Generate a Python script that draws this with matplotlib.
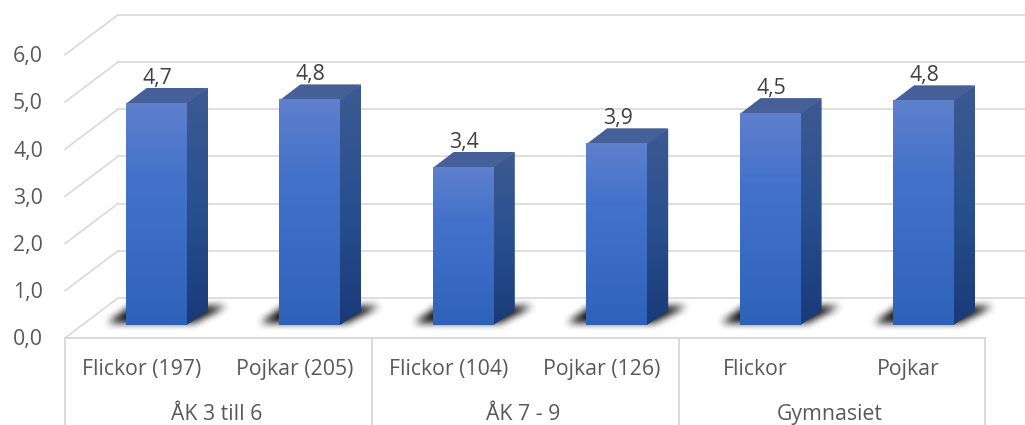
import numpy as np
import matplotlib
matplotlib.use("Agg")
import matplotlib.pyplot as plt
from matplotlib.colors import LinearSegmentedColormap
from matplotlib.patches import Polygon
from matplotlib.path import Path

plt.rcParams["font.family"] = ["Open Sans", "DejaVu Sans"]

# values
categories = ["Flickor (197)", "Pojkar (205)", "Flickor (104)", "Pojkar (126)", "Flickor", "Pojkar"]
groups = ["ÅK 3 till 6", "ÅK 7 - 9", "Gymnasiet"]
values = [4.72, 4.79, 3.36, 3.86, 4.50, 4.77]
y_ticks = [0, 1, 2, 3, 4, 5, 6]

W, H = 1025, 425
PX_X = 153.4   # pixels per category
PX_Y = 47.2    # pixels per y unit
X0, Y0 = 141.7, 338   # first category centre, zero on the front edge

# depth of the box and of the bars, in data units
WALL_DX, WALL_DY = 53 / PX_X, 40 / PX_Y
BAR_X, BAR_Y = 14.8 / PX_X, 12.5 / PX_Y
SIDE_DX, SIDE_DY = 21 / PX_X, 15 / PX_Y
BAR_W = 61 / PX_X

GRID = "#d9d9d9"
TEXT = "#595959"

front_cmap = LinearSegmentedColormap.from_list("front", ["#2e62b8", "#3a6bc4", "#4472ca", "#5f80cd"])
side_cmap = LinearSegmentedColormap.from_list("side", ["#1a3a78", "#28508f", "#3d5a92"])
top_cmap = LinearSegmentedColormap.from_list("top", ["#47619b", "#465f96"])

fig = plt.figure(figsize=(W / 100, H / 100), dpi=100)
ax = fig.add_axes([0, 0, 1, 1])
ax.axis("off")
xlim = (-X0 / PX_X, (W - X0) / PX_X)
ylim = ((Y0 - H) / PX_Y, Y0 / PX_Y)


def gradient(poly, cmap, zorder):
    pts = np.array(poly)
    img = np.linspace(1, 0, 256).reshape(-1, 1)
    im = ax.imshow(img, cmap=cmap, aspect="auto", vmin=0, vmax=1, zorder=zorder,
                   extent=(pts[:, 0].min(), pts[:, 0].max(), pts[:, 1].min(), pts[:, 1].max()))
    patch = Polygon(poly, closed=True, transform=ax.transData, facecolor="none", edgecolor="none")
    ax.add_patch(patch)
    im.set_clip_path(patch)


def blur(a, n):
    k = np.ones(n) / n
    for _ in range(2):
        a = np.apply_along_axis(lambda r: np.convolve(r, k, mode="same"), 0, a)
        a = np.apply_along_axis(lambda r: np.convolve(r, k, mode="same"), 1, a)
    return a


def shadow(left, base):
    # soft shadow on the floor behind the bar
    xs = np.linspace(left - 50 / PX_X, left + 135 / PX_X, 185)
    ys = np.linspace(base - 20 / PX_Y, base + 40 / PX_Y, 60)
    gx, gy = np.meshgrid(xs, ys)
    outline = [(left - 19 / PX_X, base + 2 / PX_Y), (left + 68 / PX_X, base + 2 / PX_Y),
               (left + 100 / PX_X, base + 19 / PX_Y), (left + 4 / PX_X, base + 19 / PX_Y)]
    mask = Path(outline).contains_points(np.c_[gx.ravel(), gy.ravel()]).reshape(gx.shape)
    alpha = blur(mask.astype(float), 9) * 0.95
    rgba = np.zeros(alpha.shape + (4,))
    rgba[..., 3] = alpha
    ax.imshow(rgba, origin="lower", aspect="auto", zorder=2, interpolation="bilinear",
              extent=(xs[0], xs[-1], ys[0], ys[-1]))


# walls and gridlines
for t in y_ticks:
    back_x = -0.5 + WALL_DX
    ax.plot([back_x, xlim[1]], [t + WALL_DY, t + WALL_DY], color=GRID, lw=1.2, zorder=1)
    ax.plot([-0.5, back_x], [t, t + WALL_DY], color=GRID, lw=1.2, zorder=1)
    ax.text(-0.5 - 22 / PX_X, t - 7.5 / PX_Y, f"{t:.1f}".replace(".", ","), ha="right", va="baseline",
            fontsize=15.3, color=TEXT)

# category box under the floor
ax.plot([-0.5, 5.5], [0, 0], color=GRID, lw=1.5, zorder=1)
for x in [-0.5, 1.5, 3.5, 5.5]:
    ax.plot([x, x], [0, ylim[0]], color=GRID, lw=1.5, zorder=1)
for i, c in enumerate(categories):
    ax.text(i, -37 / PX_Y, c, ha="center", va="baseline", fontsize=15.3, color=TEXT)
for i, g in enumerate(groups):
    ax.text(2 * i + 0.5 - 2 / PX_X, -82 / PX_Y, g, ha="center", va="baseline", fontsize=15.3, color=TEXT)

# bars
for i, v in enumerate(values):
    left = i + BAR_X - BAR_W / 2
    right = left + BAR_W
    base = BAR_Y
    top = BAR_Y + v

    shadow(left, base)
    seam = right - 1 / PX_X
    gradient([(seam, base), (right + SIDE_DX, base + SIDE_DY), (right + SIDE_DX, top + SIDE_DY), (seam, top)],
             side_cmap, 3)
    gradient([(left, top - 1 / PX_Y), (right, top - 1 / PX_Y), (right + SIDE_DX, top + SIDE_DY), (left + SIDE_DX, top + SIDE_DY)],
             top_cmap, 3)
    gradient([(left, base), (right, base), (right, top), (left, top)], front_cmap, 4)

    ax.text(i + BAR_X + 1 / PX_X, top + 19 / PX_Y, f"{v:.1f}".replace(".", ","), ha="center", va="baseline",
            fontsize=15.3, color="#404040", zorder=5)

ax.set_xlim(xlim)
ax.set_ylim(ylim)
fig.savefig("out.png", dpi=100)
